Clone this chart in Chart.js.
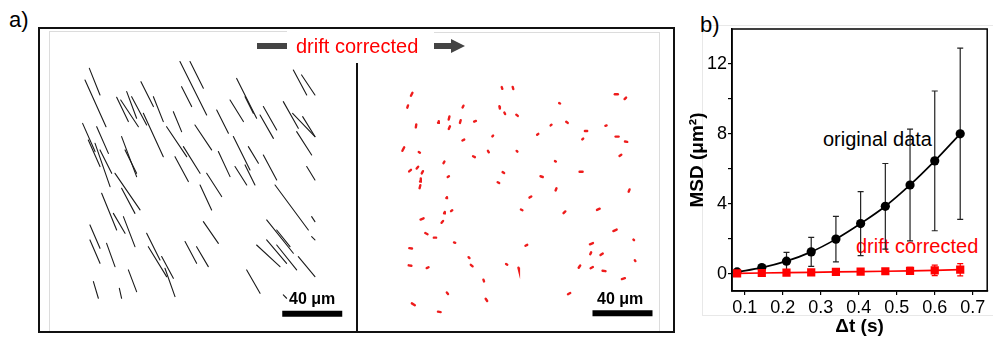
<!DOCTYPE html>
<html><head><meta charset="utf-8">
<script src="https://cdn.jsdelivr.net/npm/chart.js@4/dist/chart.umd.min.js"></script>
<style>
html,body{margin:0;padding:0;background:#fff;}
body{width:993px;height:338px;position:relative;overflow:hidden;font-family:"Liberation Sans",Arial,sans-serif;}
.abs{position:absolute;}
.t{position:absolute;white-space:nowrap;line-height:1;}
canvas{position:absolute;}
</style></head><body>
<script>
// ---------- DATA ----------
// Panel a: trajectories in µm, [x1, y1, x2, y2] (y measured downward)
const originalTracks = [
[26.9,24.9,34.0,42.7],[24.0,32.7,38.0,63.8],[45.1,44.2,52.9,60.4],[47.8,46.0,59.6,63.8],
[51.8,40.4,58.4,58.2],[55.1,43.8,65.1,62.7],[61.3,33.8,69.6,50.4],[69.6,43.8,76.2,60.4],
[87.3,20.4,105.1,56.0],[94.0,20.4,102.9,38.2],[88.4,37.1,95.1,50.4],[82.9,53.8,88.4,67.1],
[62.9,54.9,76.2,83.8],[78.4,63.8,91.8,83.8],[97.3,62.7,108.4,79.3],[111.8,52.7,119.6,68.2],
[120.7,46.0,129.6,60.4],[125.1,31.6,138.4,58.2],[130.7,43.8,136.2,54.9],[142.9,50.4,151.8,66.0],
[140.7,56.0,149.6,71.6],[156.2,47.1,166.2,64.9],[162.9,26.0,171.8,42.7],[168.4,29.3,177.3,42.7],
[162.4,54.9,177.3,70.4],[165.1,67.1,175.1,82.7],[169.1,57.1,177.3,70.4],[22.4,61.6,30.7,80.4],
[31.8,63.8,39.6,81.6],[26.2,72.7,34.0,90.4],[30.7,74.9,40.7,103.8],[34.0,79.3,41.8,94.9],
[48.4,70.4,58.4,97.1],[50.7,79.3,58.4,94.9],[84.0,83.8,92.9,100.4],[89.6,77.1,100.7,94.9],
[112.9,80.4,120.7,97.1],[122.9,70.4,134.0,92.7],[132.9,77.1,139.6,88.2],[142.9,82.7,151.8,99.3],
[130.7,89.3,137.3,102.7],[124.0,90.4,131.8,102.7],[105.1,94.9,115.1,110.4],[100.7,102.7,108.4,119.3],
[171.8,90.4,177.3,99.3],[44.0,94.9,60.7,119.3],[48.4,104.9,57.3,121.6],[35.1,108.2,45.1,132.7],
[42.9,121.6,50.7,134.9],[27.3,129.3,34.0,144.9],[27.3,139.3,34.0,154.9],[38.4,141.6,44.0,157.1],
[49.6,123.8,57.3,143.8],[65.1,134.9,74.0,152.7],[66.2,143.8,78.4,163.8],[75.1,150.4,82.9,164.9],
[90.7,140.4,98.4,154.9],[98.4,143.8,106.2,157.1],[102.9,127.1,112.9,141.6],[150.7,102.7,172.9,132.7],
[145.1,126.0,162.9,148.2],[151.8,132.7,160.7,143.8],[138.4,142.7,154.0,157.1],[145.1,139.3,158.4,154.9],
[151.8,142.7,165.1,159.3],[166.2,150.4,177.3,163.8],[175.1,123.8,177.3,127.1],[175.1,137.1,177.3,139.3],
[131.8,159.3,140.7,174.9],[52.9,159.3,58.4,173.8],[29.6,167.1,32.9,178.2],[46.9,171.6,48.4,178.2],
[77.3,158.2,84.0,177.1],[156.2,176.0,158.4,178.2]
];
// drift-corrected tracks: [centre x, centre y, dx, dy] in µm
const correctedTracks = [
[35.8,42.2,1,-2],[33.1,50.4,0.5,-1.5],[38.7,63.3,0.3,-2],[30.2,78.7,1.2,-2.4],[40.9,80.9,0.8,0.5],
[34.7,93.1,1.2,-1],[39.6,91.1,1,-1.2],[42.9,94.2,0.8,-1.5],[41.6,99.3,0.5,-2],[41.3,103.8,0.5,-2],
[53.6,60.7,0.5,-1],[60.7,58.0,0.5,-2],[60.9,64.4,0.8,-1.8],[68.2,60.4,0.5,-1.8],[70.0,50.4,0.6,-1.2],
[78.0,60.2,1.2,-0.5],[70.2,72.7,1.2,-0.6],[57.3,87.6,0.6,-1],[60.2,97.1,0.8,-0.5],[77.3,83.8,1.2,0.6],
[86.9,80.4,0.6,1],[89.8,70.0,0.5,-0.5],[96.0,38.0,0.4,1.2],[103.3,38.0,0.4,1.4],[94.4,50.9,0.3,1.5],
[97.8,54.9,0.5,1],[106.0,56.2,1,0.8],[119.8,68.9,0.8,-0.6],[128.7,62.7,0.6,-0.5],[134.4,48.2,0.6,0.3],
[139.3,60.9,1,0.8],[152.0,66.7,1.5,0],[149.8,72.0,0.6,-0.6],[165.3,63.1,0.8,-0.3],[172.2,42.2,2,0],
[178.2,44.9,1,-1],[172.7,70.4,2,0],[178.7,73.8,1.5,0.3],[174.9,82.9,1.2,-0.8],[106.0,80.2,0.5,0.5],
[96.9,94.4,1,0.6],[93.6,101.1,1,0.6],[122.4,97.1,1.5,0.5],[132.0,105.6,0.6,-1.5],[148.7,93.8,2,0],
[131.6,86.9,0.6,0.3],[114.9,110.7,1.2,-0.8],[59.1,111.1,0.4,-0.5],[62.4,119.8,0.8,-0.6],[57.6,121.1,0.5,-0.8],
[56.2,127.3,1,-1.2],[42.7,125.3,2,-0.8],[45.6,135.1,1.5,0.8],[51.3,137.8,1.5,0],[35.1,144.9,1.8,0.3],
[34.7,156.4,1.8,0.3],[46.4,157.8,1.2,-0.6],[64.4,141.1,0.8,0.3],[74.0,151.1,0.6,0.6],[75.8,156.4,1.2,1],
[99.1,155.6,0.8,0.5],[107.1,158.4,0.3,1.2],[83.8,166.4,0.4,1.2],[59.6,174.9,0.8,1],[85.6,179.3,1,1.5],
[36.9,182.2,2,1.2],[54.2,187.3,1.8,0.3],[109.1,119.3,1,0.5],[112.2,142.9,1.2,-0.6],[137.6,120.9,1.2,-1.2],
[160.2,118.9,1.8,-0.8],[171.3,132.9,2.2,-1],[180.7,106.4,0.6,-1.5],[183.8,139.3,0.4,0.4],[155.6,141.8,2,-0.8],
[155.1,148.2,0.6,-1.2],[162.4,148.9,1.5,-1],[147.6,157.1,1,-1.5],[155.8,157.8,1.5,-0.8],[164.0,160.0,2,0.3],
[176.9,165.1,2,-0.6],[184.7,153.1,0.4,0.6],[140.7,175.1,1.5,-0.8]
];
const scaleBarLength = 40; // µm

// Panel b: MSD vs lag time
const dt = [0.080,0.145,0.210,0.275,0.340,0.405,0.470,0.535,0.600,0.667];
const msdOriginal = [0.09,0.34,0.71,1.24,1.97,2.86,3.85,5.07,6.45,8.00];
const errOriginal = [0.08,0.13,0.50,0.83,1.30,1.83,2.45,3.20,4.00,4.90];
const msdCorrected = [0.01,0.03,0.05,0.07,0.09,0.11,0.13,0.15,0.18,0.22];
const errCorrected = [0.04,0.05,0.06,0.07,0.08,0.10,0.15,0.20,0.30,0.35];
const xTicks = [0.1,0.2,0.3,0.4,0.5,0.6,0.7];
const yTicks = [0,2,4,6,8,10,12];
const yLabelled = [0,4,8,12];

// ---------- LAYOUT HELPERS ----------
function el(tag, style, text){
  const e=document.createElement(tag);
  Object.assign(e.style, style);
  if(text!==undefined) e.textContent=text;
  document.body.appendChild(e);
  return e;
}
function txt(text, left, top, size, color, weight){
  const e=el('div',{left:left+'px',top:top+'px',fontSize:size+'px',color:color||'#000',fontWeight:weight||'normal'},text);
  e.className='t'; return e;
}
function box(l,t,w,h,css){const e=el('div',Object.assign({left:l+'px',top:t+'px',width:w+'px',height:h+'px',boxSizing:'border-box'},css));e.className='abs';return e;}
function canvas(l,t,w,h){
  const c=document.createElement('canvas');
  c.width=w;c.height=h;c.style.left=l+'px';c.style.top=t+'px';c.style.width=w+'px';c.style.height=h+'px';
  document.body.appendChild(c);return c;
}

// panel a frames
box(49,31,1,301,{background:'#dcdcdc'});
box(49,31,238,1,{background:'#dcdcdc'});
box(434,32,226,1,{background:'#dcdcdc'});
box(659,32,1,300,{background:'#dcdcdc'});
// panel b faint frame
box(702,25,291,1,{background:'#e8e8e8'});
box(702,25,1,291,{background:'#e8e8e8'});
box(702,315,291,1,{background:'#e8e8e8'});

const base={responsive:false,animation:false,devicePixelRatio:1,events:[],
  plugins:{legend:{display:false},tooltip:{enabled:false}}};

function trackChart(cv, segs, color, width, xmax, ymax, bar){
  const ds = segs.map(s=>({data:[{x:s[0],y:s[1]},{x:s[2],y:s[3]}],borderColor:color,borderWidth:width,
     pointRadius:0,showLine:true,borderCapStyle:'round',tension:0}));
  ds.push({data:[{x:bar.x,y:bar.y},{x:bar.x+scaleBarLength,y:bar.y}],borderColor:'#000',borderWidth:6,pointRadius:0,showLine:true,borderCapStyle:'butt'});
  new Chart(cv,{type:'scatter',data:{datasets:ds},options:Object.assign({},base,{
    layout:{padding:0},
    scales:{x:{type:'linear',min:0,max:xmax,display:false},y:{type:'linear',min:0,max:ymax,reverse:true,display:false}}
  })});
}
trackChart(canvas(49,31,306,301), originalTracks, '#1a1a1a', 1.1, 204, 200.7, {x:155.5,y:188.5});
trackChart(canvas(358,31,302,301),
  correctedTracks.map(t=>[t[0]-t[2]/2,t[1]-t[3]/2,t[0]+t[2]/2,t[1]+t[3]/2]), '#ee1c1c', 2.4, 201.3, 200.7, {x:156.3,y:188.2});

// outer frame and divider
box(38,27,637,306,{border:'2px solid #111'});
box(356,63,2,269,{background:'#111'});
// header bar and arrow
box(257,43,30,6,{background:'#444'});
txt('drift corrected',296,36,20,'#ff0000');
const svgNS='http://www.w3.org/2000/svg';
const svg=document.createElementNS(svgNS,'svg');
svg.setAttribute('width','40');svg.setAttribute('height','20');
Object.assign(svg.style,{position:'absolute',left:'430px',top:'36px'});
svg.innerHTML='<rect x="4" y="7" width="19" height="6" fill="#444"/><polygon points="21,3 35,10 21,17" fill="#444"/>';
document.body.appendChild(svg);
// labels
txt('a)',9,9,22);
txt('40 μm',289,291,16,'#000','bold');
txt('40 μm',597,291,16,'#000','bold');
txt('b)',700,14,22);
txt('original data',823,129,20,'#000');
txt('drift corrected',856,236,20,'#ff0000');

// ---------- Panel b chart ----------
const errorBars={id:'errorBars',
  beforeDatasetsDraw(chart){
    const {ctx,scales:{x,y}}=chart;
    chart.data.datasets.forEach(ds=>{
      if(!ds.errors) return;
      ctx.save();ctx.strokeStyle=ds.errColor;ctx.lineWidth=1.2;
      ds.data.forEach((p,i)=>{
        const px=x.getPixelForValue(p.x), e=ds.errors[i];
        const y1=y.getPixelForValue(p.y+e), y2=y.getPixelForValue(p.y-e);
        ctx.beginPath();ctx.moveTo(px,y1);ctx.lineTo(px,y2);
        ctx.moveTo(px-3,y1);ctx.lineTo(px+3,y1);ctx.moveTo(px-3,y2);ctx.lineTo(px+3,y2);ctx.stroke();
      });
      ctx.restore();
    });
  }};
const frame={id:'frame',afterDraw(chart){const {ctx,chartArea:a}=chart;ctx.save();ctx.strokeStyle='#000';ctx.lineWidth=1.5;
  ctx.strokeRect(a.left,a.top,a.right-a.left,a.bottom-a.top);ctx.restore();}};

new Chart(canvas(680,0,313,338),{type:'scatter',
  data:{datasets:[
    {data:dt.map((v,i)=>({x:v,y:msdCorrected[i]})),errors:errCorrected,errColor:'#ff0000',showLine:true,
      borderColor:'#ff0000',backgroundColor:'#ff0000',borderWidth:1.7,pointStyle:'rect',pointRadius:5.8,pointBorderWidth:0,tension:0},
    {data:dt.map((v,i)=>({x:v,y:msdOriginal[i]})),errors:errOriginal,errColor:'#222',showLine:true,
      borderColor:'#000',backgroundColor:'#000',borderWidth:1.7,pointStyle:'circle',pointRadius:4.6,pointBorderWidth:0,tension:0.35}
  ]},
  options:Object.assign({},base,{
    layout:{padding:{left:0,top:29,right:1,bottom:0}},
    scales:{
      x:{type:'linear',min:0.0666,max:0.738,
        afterBuildTicks:s=>{s.ticks=xTicks.map(v=>({value:v}));},
        afterFit:s=>{s.height=47;},
        grid:{drawOnChartArea:false,drawTicks:true,tickLength:4,color:'#000',lineWidth:1.2},
        border:{display:true,color:'#000',width:1.5},
        ticks:{color:'#000',padding:2,font:{family:'"Liberation Sans", Arial',size:18},callback:v=>v.toFixed(1),maxRotation:0},
        title:{display:true,text:'Δt (s)',color:'#000',padding:{top:0,bottom:0},font:{family:'"Liberation Sans", Arial',size:19,weight:'bold'}}},
      y:{type:'linear',min:-1,max:14,
        afterBuildTicks:s=>{s.ticks=yTicks.map(v=>({value:v}));},
        afterFit:s=>{s.width=52;},
        grid:{drawOnChartArea:false,drawTicks:true,tickLength:4,color:'#000',lineWidth:1.2},
        border:{display:true,color:'#000',width:1.5},
        ticks:{color:'#000',padding:1,font:{family:'"Liberation Sans", Arial',size:18},callback:v=>yLabelled.includes(v)?String(v):''},
        title:{display:true,text:'MSD (μm²)',color:'#000',padding:{top:6,bottom:0},font:{family:'"Liberation Sans", Arial',size:19,weight:'bold'}}}
    }
  }),
  plugins:[errorBars,frame]
});
</script>
</body></html>
